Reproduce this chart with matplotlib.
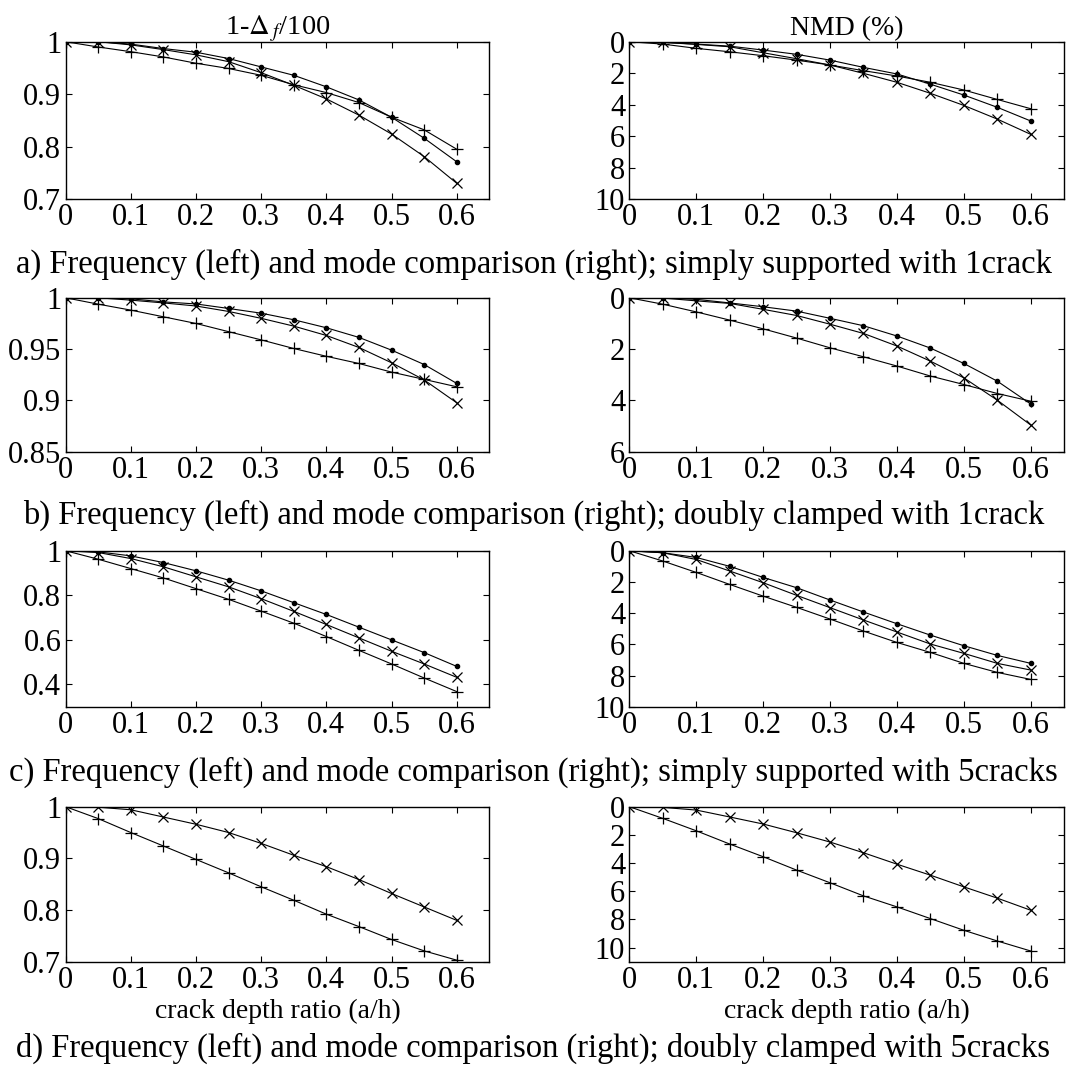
import matplotlib
matplotlib.use("Agg")
import matplotlib.pyplot as plt

plt.rcParams['font.family'] = ['Liberation Serif', 'DejaVu Serif']
plt.rcParams['mathtext.fontset'] = 'stix'

# crack depth ratio
x = [0, 0.05, 0.1, 0.15, 0.2, 0.25, 0.3, 0.35, 0.4, 0.45, 0.5, 0.55, 0.6]

# a) simply supported, 1 crack
a_freq_dot = [1, 1.0, 0.9955, 0.987, 0.98, 0.968, 0.952, 0.936, 0.914, 0.889, 0.856, 0.816, 0.771]
a_freq_x = [1, 1.0, 0.994, 0.985, 0.975, 0.962, 0.941, 0.917, 0.891, 0.86, 0.824, 0.781, 0.73]
a_freq_p = [1, 0.99, 0.981, 0.971, 0.959, 0.949, 0.936, 0.918, 0.903, 0.884, 0.856, 0.832, 0.795]
a_nmd_dot = [0, 0.04, 0.15, 0.28, 0.53, 0.8, 1.17, 1.63, 2.05, 2.7, 3.39, 4.17, 5.04]
a_nmd_x = [0, 0.04, 0.17, 0.32, 0.7, 1.08, 1.48, 2.01, 2.58, 3.28, 4.05, 4.92, 5.89]
a_nmd_p = [0, 0.15, 0.42, 0.64, 0.89, 1.17, 1.48, 1.84, 2.18, 2.58, 3.07, 3.67, 4.26]

# b) doubly clamped, 1 crack
b_freq_dot = [1, 1.0, 0.999, 0.996, 0.994, 0.9896, 0.985, 0.9786, 0.9708, 0.9614, 0.949, 0.935, 0.9166]
b_freq_x = [1, 1.0, 0.9977, 0.995, 0.992, 0.9867, 0.98, 0.9724, 0.9633, 0.9516, 0.9367, 0.92, 0.8977]
b_freq_p = [1, 0.9938, 0.988, 0.9815, 0.975, 0.967, 0.959, 0.9506, 0.943, 0.936, 0.9276, 0.9205, 0.9133]
b_nmd_dot = [0, 0.0, 0.06, 0.2, 0.35, 0.52, 0.8, 1.09, 1.49, 1.96, 2.56, 3.25, 4.14]
b_nmd_x = [0, 0.01, 0.12, 0.22, 0.45, 0.69, 1.03, 1.39, 1.88, 2.47, 3.12, 3.99, 4.96]
b_nmd_p = [0, 0.25, 0.55, 0.87, 1.21, 1.57, 1.95, 2.3, 2.66, 3.05, 3.38, 3.73, 4.03]

# c) simply supported, 5 cracks
c_freq_dot = [1, 0.995, 0.977, 0.947, 0.91, 0.868, 0.82, 0.767, 0.714, 0.657, 0.6, 0.543, 0.481]
c_freq_x = [1, 0.992, 0.965, 0.928, 0.883, 0.838, 0.785, 0.728, 0.669, 0.609, 0.549, 0.492, 0.432]
c_freq_p = [1, 0.962, 0.92, 0.878, 0.83, 0.782, 0.729, 0.675, 0.615, 0.553, 0.492, 0.429, 0.368]
c_nmd_dot = [0, 0.13, 0.43, 1.0, 1.71, 2.37, 3.16, 3.93, 4.68, 5.41, 6.09, 6.71, 7.22]
c_nmd_x = [0, 0.13, 0.56, 1.3, 2.05, 2.86, 3.65, 4.44, 5.21, 5.98, 6.58, 7.22, 7.65]
c_nmd_p = [0, 0.66, 1.39, 2.16, 2.91, 3.63, 4.38, 5.15, 5.88, 6.52, 7.22, 7.8, 8.25]

# d) doubly clamped, 5 cracks
d_freq_x = [1, 0.999, 0.994, 0.98, 0.966, 0.95, 0.929, 0.906, 0.884, 0.859, 0.832, 0.806, 0.78]
d_freq_p = [1, 0.977, 0.95, 0.924, 0.898, 0.872, 0.845, 0.819, 0.792, 0.768, 0.743, 0.721, 0.703]
d_nmd_x = [0, 0.05, 0.24, 0.73, 1.23, 1.85, 2.51, 3.27, 4.08, 4.86, 5.69, 6.49, 7.35]
d_nmd_p = [0, 0.83, 1.71, 2.65, 3.55, 4.5, 5.4, 6.33, 7.11, 7.94, 8.77, 9.53, 10.24]

captions = [
    "a) Frequency (left) and mode comparison (right); simply supported with 1crack",
    "b) Frequency (left) and mode comparison (right); doubly clamped with 1crack",
    "c) Frequency (left) and mode comparison (right); simply supported with 5cracks",
    "d) Frequency (left) and mode comparison (right); doubly clamped with 5cracks",
]

rows = [
    ([a_freq_dot, a_freq_x, a_freq_p], [a_nmd_dot, a_nmd_x, a_nmd_p],
     (0.7, 1), [0.7, 0.8, 0.9, 1], ['0.7', '0.8', '0.9', '1'], 10, [0, 2, 4, 6, 8, 10]),
    ([b_freq_dot, b_freq_x, b_freq_p], [b_nmd_dot, b_nmd_x, b_nmd_p],
     (0.85, 1), [0.85, 0.9, 0.95, 1], ['0.85', '0.9', '0.95', '1'], 6, [0, 2, 4, 6]),
    ([c_freq_dot, c_freq_x, c_freq_p], [c_nmd_dot, c_nmd_x, c_nmd_p],
     (0.3, 1), [0.4, 0.6, 0.8, 1], ['0.4', '0.6', '0.8', '1'], 10, [0, 2, 4, 6, 8, 10]),
    ([None, d_freq_x, d_freq_p], [None, d_nmd_x, d_nmd_p],
     (0.7, 1), [0.7, 0.8, 0.9, 1], ['0.7', '0.8', '0.9', '1'], 11, [0, 2, 4, 6, 8, 10]),
]

styles = [dict(marker='.', ms=6), dict(marker='x', ms=7, mew=0.9), dict(marker='+', ms=9, mew=0.9)]

# axes boxes in figure fraction
row_y = [(0.8140, 0.1470), (0.5778, 0.1439), (0.3395, 0.1458), (0.1012, 0.1449)]
left_x = (0.0614, 0.3972)
right_x = (0.5898, 0.4076)
cap_y = [1 - 264 / 1070, 1 - 515 / 1070, 1 - 772 / 1070, 1 - 1048 / 1070]

fig = plt.figure(figsize=(10.67, 10.70), dpi=100)

xt = [0, 0.1, 0.2, 0.3, 0.4, 0.5, 0.6]
xtl = ['0', '0.1', '0.2', '0.3', '0.4', '0.5', '0.6']

for i, (freq, nmd, ylim, yt, ytl, nmax, nt) in enumerate(rows):
    y0, h = row_y[i]
    axl = fig.add_axes([left_x[0], y0, left_x[1], h])
    axr = fig.add_axes([right_x[0], y0, right_x[1], h])
    for s, st in zip(freq, styles):
        if s is not None:
            axl.plot(x, s, '-', color='k', lw=0.8, **st)
    for s, st in zip(nmd, styles):
        if s is not None:
            axr.plot(x, s, '-', color='k', lw=0.8, **st)
    axl.set_ylim(*ylim)
    axl.set_yticks(yt)
    axl.set_yticklabels(ytl)
    axr.set_ylim(nmax, 0)
    axr.set_yticks(nt)
    axr.set_yticklabels([str(v) for v in nt])
    for ax in (axl, axr):
        ax.set_xlim(0, 0.65)
        ax.set_xticks(xt)
        ax.set_xticklabels(xtl)
        ax.tick_params(direction='in', top=True, right=True, labelsize=22,
                       length=4, width=0.8, pad=3)
        for sp in ax.spines.values():
            sp.set_linewidth(1.0)
    if i == 0:
        axl.set_title(r'1-$\Delta_{\,f}$/100', fontsize=20.5, pad=5)
        axr.set_title('NMD (%)', fontsize=20, pad=5)
    if i == 3:
        axl.set_xlabel('crack depth ratio (a/h)', fontsize=20, labelpad=3)
        axr.set_xlabel('crack depth ratio (a/h)', fontsize=20, labelpad=3)
    fig.text(0.5, cap_y[i], captions[i], ha='center', va='center', fontsize=23.5)

fig.savefig('out.png', dpi=100)
